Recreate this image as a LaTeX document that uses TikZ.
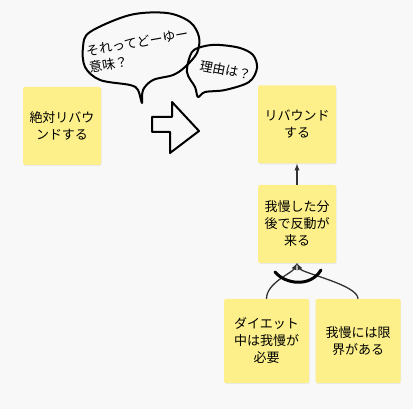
\documentclass[tikz,border=0pt]{standalone}
\usepackage{fontspec}
\setmainfont{Noto Sans CJK JP}
\usetikzlibrary{arrows,positioning,shadows}
\definecolor{sticky}{RGB}{253,240,138}
\definecolor{board}{RGB}{248,248,249}
\definecolor{wire}{RGB}{50,50,50}
\tikzset{%
    note/.style={%
        rectangle, rounded corners=1.5pt, fill=sticky, minimum width=78pt, minimum height=78pt, align=center,
        font=\fontsize{13}{17}\selectfont, inner sep=2pt,
        drop shadow={opacity=0.12, shadow xshift=0.6pt, shadow yshift=-0.8pt}
    },
    bignote/.style={%
        note, minimum width=85pt, minimum height=84pt
    },
    ink/.style={%
        draw=black, line width=2pt, line cap=round, line join=round
    },
    talk/.style={%
        font=\fontsize{13}{17}\selectfont, align=left, inner sep=0pt
    },
    link/.style={%
        -latex, draw=wire, line width=1.3pt
    },
}

\begin{document}
\begin{tikzpicture}[x=1pt, y=-1pt]
      \useasboundingbox[fill=board] (0,0) rectangle (413,409);

      \node[note] (absolute) at (62,126) {絶対リバウ\\ンドする};
      \node[note] (rebound) at (297,124.5) {リバウンド\\する};
      \node[note] (back) at (297,224) {我慢した分\\後で反動が\\来る};
      \node[bignote] (diet) at (266.5,341) {ダイエット\\中は我慢が\\必要};
      \node[bignote] (limit) at (358,341) {我慢には限\\界がある};

      \draw[link] (back) -- (rebound);
      \draw[link] (diet.north) .. controls +(0,-16) and +(-5,10) .. (back.south);
      \draw[link] (limit.north) .. controls +(0,-14) and +(5,10) .. (back.south);
      \draw[ink, line width=3pt] (275,272) .. controls (285,284) and (310,288) .. (321,270);

      % hand drawn arrow and bubbles
      \draw[ink] (152,117) -- (172,117) -- (172,102) -- (199,131) -- (170,153) -- (170,132) -- (152,132) -- cycle;
      \draw[ink] plot[smooth cycle, tension=0.55] coordinates {(90,32) (130,15) (167,13) (190,22) (199,37) (197,53) (185,67) (173,75) (153,80) (143,90) (142,103) (138,90) (130,85) (100,80) (85,67) (83,47)};
      \draw[ink] plot[smooth cycle, tension=0.55] coordinates {(192,52) (205,46) (220,45) (240,48) (253,55) (257,68) (249,82) (225,90) (205,92) (198,97) (195,87) (187,72)};
      \node[talk, rotate=10, anchor=base west] (what) at (90,73) {それってどーゆー\\意味？};
      \node[talk, rotate=-11, anchor=base west] (why) at (199,70) {理由は？};
\end{tikzpicture}
\end{document}
